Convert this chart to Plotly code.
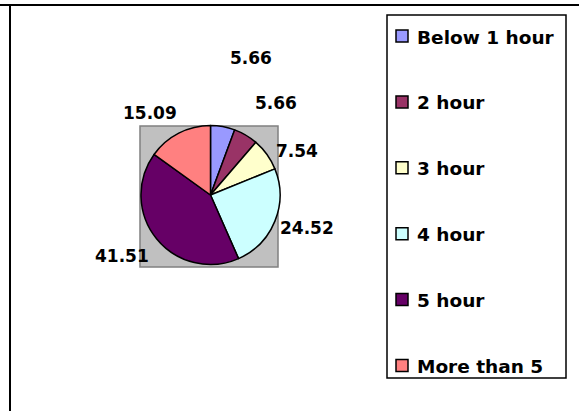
import plotly.graph_objects as go

categories = ["Below 1 hour", "2 hour", "3 hour", "4 hour", "5 hour", "More than 5"]
values = [5.66, 5.66, 7.54, 24.52, 41.51, 15.09]
colors = ["#9999FF", "#993366", "#FFFFCC", "#CCFFFF", "#660066", "#FF8080"]

# label anchor positions (pixel centres) as laid out in the original chart
label_pos = [(251, 58), (276, 103), (297, 151), (307, 228), (122, 256), (150, 113)]

W, H = 579, 411
FONT = "DejaVu Sans"
FS_LABEL = 17
FS_LEGEND = 18.5


def px(x):
    return x / W


def py(y):
    return 1 - y / H


cx, cy, r = 210.5, 195, 69.5

fig = go.Figure(go.Pie(
    labels=categories,
    values=values,
    sort=False,
    direction="clockwise",
    rotation=0,
    marker=dict(colors=colors, line=dict(color="black", width=1.5)),
    textinfo="none",
    hoverinfo="label+value",
    showlegend=False,
    domain=dict(x=[px(cx - r), px(cx + r)], y=[py(cy + r), py(cy - r)]),
))

shapes = [
    # frame
    dict(type="line", xref="paper", yref="paper", x0=0, x1=1, y0=py(5), y1=py(5),
         line=dict(color="black", width=2)),
    dict(type="line", xref="paper", yref="paper", x0=px(10), x1=px(10), y0=py(5), y1=0,
         line=dict(color="black", width=2)),
    # plot area
    dict(type="rect", xref="paper", yref="paper", x0=px(140), x1=px(278), y0=py(267), y1=py(126),
         fillcolor="#C0C0C0", line=dict(color="#808080", width=1.5), layer="below"),
    # legend box
    dict(type="rect", xref="paper", yref="paper", x0=px(387), x1=px(566), y0=py(378), y1=py(15),
         fillcolor="white", line=dict(color="black", width=1.5), layer="below"),
]

annotations = []
for v, (lx, ly) in zip(values, label_pos):
    annotations.append(dict(
        x=px(lx), y=py(ly), xref="paper", yref="paper", text=f"<b>{v:.2f}</b>",
        showarrow=False, xanchor="center", yanchor="middle",
        font=dict(family=FONT, size=FS_LABEL, color="black")))

step = (365.5 - 36) / 5
for i, (cat, col) in enumerate(zip(categories, colors)):
    yc = 36 + i * step
    shapes.append(dict(type="rect", xref="paper", yref="paper",
                       x0=px(396), x1=px(408), y0=py(yc + 6), y1=py(yc - 6),
                       fillcolor=col, line=dict(color="black", width=1.5)))
    annotations.append(dict(
        x=px(415), y=py(yc + 1), xref="paper", yref="paper", text=f"<b>{cat}</b>",
        showarrow=False, xanchor="left", yanchor="middle",
        font=dict(family=FONT, size=FS_LEGEND, color="black")))

fig.update_layout(
    width=W, height=H,
    margin=dict(l=0, r=0, t=0, b=0),
    paper_bgcolor="white",
    plot_bgcolor="white",
    shapes=shapes,
    annotations=annotations,
)

fig.write_html(
    "out.html",
    config={"displayModeBar": False},
    post_script="document.body.style.margin='0';document.body.style.overflow='hidden';",
)
